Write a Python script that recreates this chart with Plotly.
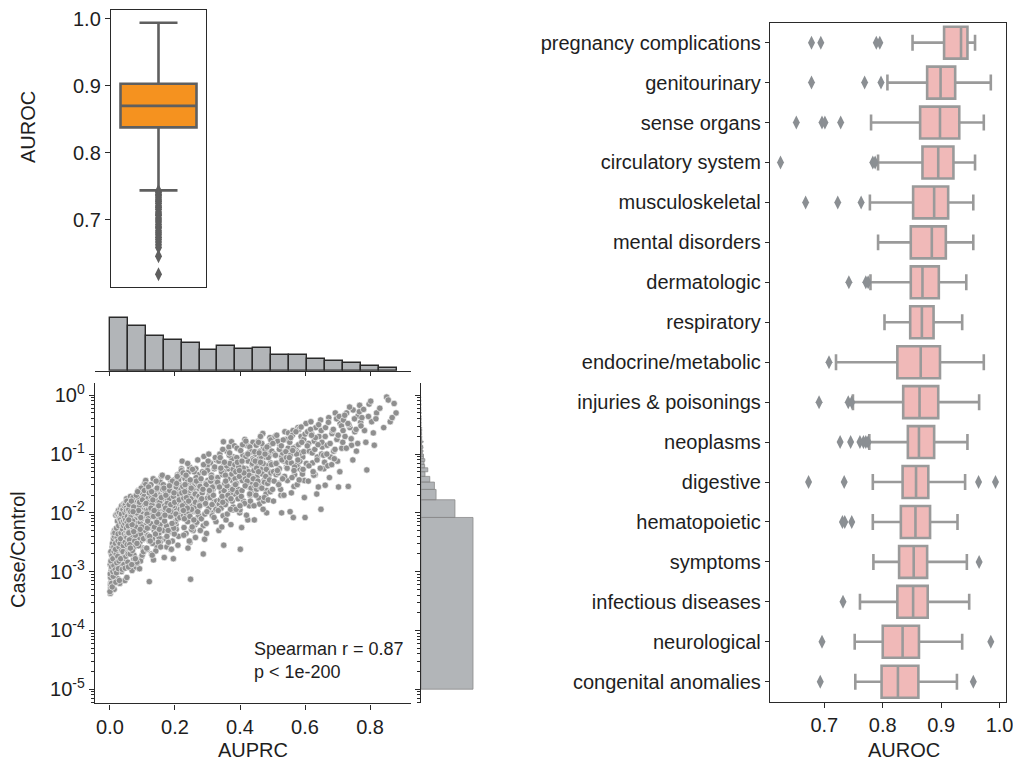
import numpy as np
import plotly.graph_objects as go

W, H = 1013, 761
FONT = "Liberation Sans, Arial, Helvetica, sans-serif"
INK = "#1e1e1e"

# ---------------- overall AUROC (summary statistics + outliers) ----------------
overall_q1 = 0.838
overall_median = 0.870
overall_q3 = 0.903
overall_low = 0.744
overall_high = 0.994
overall_outliers = [0.743, 0.741, 0.738, 0.736, 0.733, 0.730, 0.728, 0.725, 0.721, 0.719,
                    0.716, 0.712, 0.709, 0.707, 0.703, 0.700, 0.697, 0.693, 0.690, 0.688,
                    0.684, 0.681, 0.678, 0.674, 0.671, 0.667, 0.663, 0.659, 0.646, 0.619]

# ---------------- AUPRC vs case/control ratio (one point per phenotype) ----------------
auprc = [
    # 0.00 - 0.055
    0.001, 0.002, 0.003, 0.004, 0.005, 0.006, 0.007, 0.008, 0.009, 0.010,
    0.011, 0.012, 0.002, 0.004, 0.006, 0.008, 0.010, 0.003, 0.007, 0.011,
    0.013, 0.014, 0.015, 0.016, 0.017, 0.018, 0.019, 0.020, 0.021, 0.022,
    0.023, 0.024, 0.025, 0.026, 0.027, 0.014, 0.016, 0.018, 0.020, 0.022,
    0.024, 0.026,
    0.029, 0.030, 0.031, 0.032, 0.033, 0.034, 0.035, 0.036, 0.037, 0.038,
    0.039, 0.040, 0.041, 0.030, 0.032, 0.034, 0.036, 0.038, 0.040, 0.042,
    0.043, 0.044, 0.045, 0.046, 0.047, 0.048, 0.049, 0.050, 0.051, 0.052,
    0.053, 0.054, 0.044, 0.046, 0.048, 0.050, 0.052, 0.054,
    0.000, 0.001, 0.002, 0.003, 0.004, 0.005, 0.006, 0.001, 0.003, 0.005,
    0.007, 0.008, 0.009, 0.010, 0.011, 0.012, 0.013, 0.014, 0.009, 0.012,
    0.015, 0.016, 0.017, 0.018, 0.019, 0.020, 0.021, 0.022, 0.017, 0.020,
    0.023, 0.024, 0.025, 0.026, 0.027, 0.028, 0.029, 0.030, 0.025, 0.028,
    0.031, 0.032, 0.033, 0.034, 0.035, 0.036, 0.037, 0.038, 0.033, 0.036,
    0.039, 0.040, 0.041, 0.042, 0.043, 0.044, 0.045, 0.040, 0.042, 0.044,
    0.046, 0.047, 0.048, 0.049, 0.050, 0.046, 0.048, 0.050, 0.047, 0.049,
    0.051, 0.052, 0.053, 0.054, 0.055, 0.051, 0.052, 0.053, 0.054, 0.055,
    # 0.055 - 0.110
    0.057, 0.061, 0.066, 0.070, 0.074, 0.078, 0.083, 0.087, 0.092, 0.097,
    0.101, 0.106, 0.059, 0.063, 0.068, 0.072, 0.077, 0.081, 0.085, 0.090,
    0.094, 0.099, 0.104, 0.108, 0.056, 0.062, 0.067, 0.071, 0.076, 0.080,
    0.084, 0.089, 0.093, 0.098, 0.103, 0.107, 0.060, 0.064, 0.069, 0.073,
    0.079, 0.082, 0.086, 0.091, 0.095, 0.100, 0.105, 0.109, 0.058, 0.065,
    0.075, 0.088, 0.096, 0.102, 0.110, 0.062, 0.071, 0.083, 0.094, 0.106,
    0.066, 0.078, 0.090, 0.101, 0.058, 0.074, 0.087, 0.099,
    0.056, 0.059, 0.062, 0.065, 0.068, 0.071, 0.074, 0.077, 0.080, 0.083,
    0.086, 0.089, 0.092, 0.095, 0.098, 0.101, 0.104, 0.107, 0.110, 0.057,
    0.060, 0.063, 0.066, 0.069, 0.072, 0.075, 0.078, 0.081, 0.084, 0.087,
    0.090, 0.093, 0.096, 0.099, 0.102, 0.105, 0.108, 0.058, 0.061, 0.064,
    0.067, 0.070, 0.073, 0.076, 0.079, 0.082, 0.085, 0.088, 0.091, 0.094,
    0.097, 0.100, 0.103, 0.106, 0.109, 0.068, 0.078, 0.088, 0.098, 0.108,
    0.063, 0.073, 0.083, 0.093, 0.103, 0.058, 0.071, 0.095,
    # 0.110 - 0.165
    0.112, 0.116, 0.120, 0.124, 0.128, 0.132, 0.136, 0.140, 0.144, 0.148,
    0.152, 0.156, 0.160, 0.164, 0.114, 0.118, 0.122, 0.126, 0.130, 0.134,
    0.138, 0.142, 0.146, 0.150, 0.154, 0.158, 0.162, 0.113, 0.121, 0.129,
    0.137, 0.145, 0.153, 0.161, 0.117, 0.125, 0.133, 0.141, 0.149, 0.157,
    0.115, 0.127, 0.139, 0.151, 0.163, 0.119, 0.131, 0.143, 0.155, 0.121,
    0.135, 0.147,
    0.111, 0.115, 0.119, 0.123, 0.127, 0.131, 0.135, 0.139, 0.143, 0.147,
    0.151, 0.155, 0.159, 0.163, 0.113, 0.117, 0.121, 0.125, 0.129, 0.133,
    0.137, 0.141, 0.145, 0.149, 0.153, 0.157, 0.161, 0.165, 0.114, 0.122,
    0.130, 0.138, 0.146, 0.154, 0.162, 0.118, 0.126, 0.134, 0.142, 0.150,
    0.158, 0.116, 0.124, 0.132, 0.140, 0.148, 0.156, 0.164, 0.128, 0.144,
    0.136, 0.152,
    # 0.165 - 0.220
    0.167, 0.171, 0.175, 0.179, 0.183, 0.187, 0.191, 0.195, 0.199, 0.203,
    0.207, 0.211, 0.215, 0.219, 0.169, 0.173, 0.177, 0.181, 0.185, 0.189,
    0.193, 0.197, 0.201, 0.205, 0.209, 0.213, 0.217, 0.168, 0.176, 0.184,
    0.192, 0.200, 0.208, 0.216, 0.172, 0.180, 0.188, 0.196, 0.204, 0.212,
    0.220, 0.178, 0.190, 0.202, 0.214, 0.186, 0.198,
    0.166, 0.170, 0.174, 0.178, 0.182, 0.186, 0.190, 0.194, 0.198, 0.202,
    0.206, 0.210, 0.214, 0.218, 0.168, 0.172, 0.176, 0.180, 0.184, 0.188,
    0.192, 0.196, 0.200, 0.204, 0.208, 0.212, 0.216, 0.220, 0.171, 0.179,
    0.187, 0.195, 0.203, 0.211, 0.219, 0.175, 0.183, 0.191, 0.199, 0.207,
    0.215, 0.181, 0.197, 0.213, 0.189, 0.205, 0.169,
    # 0.220 - 0.275
    0.222, 0.226, 0.230, 0.234, 0.238, 0.242, 0.246, 0.250, 0.254, 0.258,
    0.262, 0.266, 0.270, 0.274, 0.224, 0.228, 0.232, 0.236, 0.240, 0.244,
    0.248, 0.252, 0.256, 0.260, 0.264, 0.268, 0.272, 0.223, 0.231, 0.239,
    0.247, 0.255, 0.263, 0.271, 0.227, 0.235, 0.243, 0.251, 0.259, 0.267,
    0.248, 0.275,
    0.221, 0.225, 0.229, 0.233, 0.237, 0.241, 0.245, 0.249, 0.253, 0.257,
    0.261, 0.265, 0.269, 0.273, 0.223, 0.227, 0.231, 0.235, 0.239, 0.243,
    0.247, 0.251, 0.255, 0.259, 0.263, 0.267, 0.271, 0.275, 0.230, 0.238,
    0.246, 0.254, 0.262, 0.270, 0.234, 0.242, 0.250, 0.258, 0.266, 0.274,
    0.226, 0.244,
    # 0.275 - 0.330
    0.277, 0.281, 0.285, 0.289, 0.293, 0.297, 0.301, 0.305, 0.309, 0.313,
    0.317, 0.321, 0.325, 0.329, 0.279, 0.287, 0.295, 0.303, 0.311, 0.319,
    0.327, 0.283, 0.291, 0.299, 0.307, 0.315, 0.323, 0.287, 0.300, 0.312,
    0.326,
    0.276, 0.280, 0.284, 0.288, 0.292, 0.296, 0.300, 0.304, 0.308, 0.312,
    0.316, 0.320, 0.324, 0.328, 0.278, 0.286, 0.294, 0.302, 0.310, 0.318,
    0.326, 0.282, 0.290, 0.298, 0.306, 0.314, 0.322, 0.330, 0.296, 0.312,
    0.304,
    # 0.330 - 0.386
    0.332, 0.336, 0.340, 0.344, 0.348, 0.352, 0.356, 0.360, 0.364, 0.368,
    0.372, 0.376, 0.380, 0.384, 0.334, 0.338, 0.342, 0.346, 0.350, 0.354,
    0.358, 0.362, 0.366, 0.370, 0.374, 0.378, 0.382, 0.335, 0.343, 0.351,
    0.359, 0.367, 0.375, 0.383, 0.349, 0.357, 0.365,
    0.331, 0.335, 0.339, 0.343, 0.347, 0.351, 0.355, 0.359, 0.363, 0.367,
    0.371, 0.375, 0.379, 0.383, 0.333, 0.337, 0.341, 0.345, 0.353, 0.361,
    0.369, 0.377, 0.385, 0.339, 0.347, 0.355, 0.363, 0.371, 0.379, 0.344,
    0.352, 0.360, 0.368, 0.376, 0.384, 0.356, 0.372,
    # 0.386 - 0.441
    0.387, 0.391, 0.395, 0.399, 0.403, 0.407, 0.411, 0.415, 0.419, 0.423,
    0.427, 0.431, 0.435, 0.439, 0.389, 0.397, 0.405, 0.413, 0.421, 0.429,
    0.437, 0.393, 0.401, 0.409, 0.417, 0.425, 0.433, 0.440, 0.400, 0.412,
    0.424, 0.436, 0.396,
    0.386, 0.390, 0.394, 0.398, 0.402, 0.406, 0.410, 0.414, 0.418, 0.422,
    0.426, 0.430, 0.434, 0.438, 0.388, 0.396, 0.404, 0.408, 0.416, 0.420,
    0.428, 0.432, 0.436, 0.440, 0.392, 0.400, 0.412, 0.424, 0.434, 0.406,
    0.418, 0.430, 0.398,
    # 0.441 - 0.496
    0.442, 0.446, 0.450, 0.454, 0.458, 0.462, 0.466, 0.470, 0.474, 0.478,
    0.482, 0.486, 0.490, 0.494, 0.444, 0.448, 0.452, 0.456, 0.460, 0.464,
    0.468, 0.472, 0.476, 0.480, 0.484, 0.488, 0.492, 0.443, 0.451, 0.459,
    0.467, 0.475, 0.483, 0.491, 0.482,
    0.441, 0.445, 0.449, 0.453, 0.457, 0.461, 0.465, 0.469, 0.473, 0.477,
    0.481, 0.485, 0.489, 0.493, 0.447, 0.455, 0.463, 0.471, 0.479, 0.487,
    0.495, 0.443, 0.451, 0.459, 0.467, 0.475, 0.483, 0.491, 0.457, 0.471,
    0.449, 0.463, 0.477, 0.487, 0.495,
    # 0.496 - 0.551
    0.498, 0.503, 0.508, 0.513, 0.518, 0.523, 0.528, 0.533, 0.538, 0.543,
    0.548, 0.500, 0.506, 0.511, 0.516, 0.521, 0.526, 0.531, 0.536, 0.541,
    0.546, 0.528, 0.550,
    0.497, 0.501, 0.505, 0.509, 0.513, 0.517, 0.521, 0.525, 0.529, 0.533,
    0.537, 0.541, 0.545, 0.549, 0.503, 0.511, 0.519, 0.527, 0.535, 0.543,
    0.515, 0.531, 0.547,
    # 0.551 - 0.606
    0.553, 0.558, 0.563, 0.568, 0.573, 0.578, 0.583, 0.588, 0.593, 0.598,
    0.603, 0.555, 0.561, 0.566, 0.571, 0.576, 0.581, 0.586, 0.591, 0.596,
    0.554, 0.564, 0.600,
    0.552, 0.556, 0.560, 0.564, 0.568, 0.572, 0.576, 0.580, 0.584, 0.588,
    0.592, 0.596, 0.600, 0.604, 0.558, 0.566, 0.574, 0.582, 0.590, 0.598,
    0.562, 0.578, 0.594,
    # 0.606 - 0.661
    0.608, 0.613, 0.618, 0.623, 0.628, 0.633, 0.638, 0.643, 0.648, 0.653,
    0.658, 0.611, 0.621, 0.631, 0.641, 0.651, 0.636, 0.649,
    0.607, 0.612, 0.617, 0.622, 0.627, 0.632, 0.637, 0.642, 0.647, 0.652,
    0.657, 0.610, 0.620, 0.630, 0.640, 0.650, 0.660, 0.625,
    # 0.661 - 0.716
    0.663, 0.668, 0.673, 0.678, 0.683, 0.688, 0.693, 0.698, 0.703, 0.708,
    0.713, 0.670, 0.685, 0.700, 0.662,
    0.662, 0.667, 0.672, 0.677, 0.682, 0.687, 0.692, 0.697, 0.702, 0.707,
    0.712, 0.716, 0.675, 0.690, 0.705,
    # 0.716 - 0.771
    0.718, 0.723, 0.728, 0.733, 0.738, 0.743, 0.748, 0.753, 0.758, 0.763,
    0.768, 0.735,
    0.717, 0.722, 0.727, 0.732, 0.737, 0.742, 0.747, 0.752, 0.757, 0.762,
    0.767, 0.771,
    # 0.771 - 0.882
    0.775, 0.783, 0.790, 0.797, 0.805, 0.813, 0.820,
    0.772, 0.780, 0.787, 0.795, 0.802, 0.810, 0.818,
    0.851, 0.862, 0.874, 0.880,
    0.830, 0.842, 0.856, 0.868,
]

log10_case_control = [
    # 0.00 - 0.055
    -3.37, -3.28, -3.18, -3.05, -2.95, -2.85, -2.76, -2.70, -2.62, -2.55,
    -2.48, -2.42, -3.22, -3.12, -2.99, -2.90, -2.80, -2.68, -2.58, -2.35,
    -3.30, -2.30, -3.05, -2.60, -2.85, -2.04, -2.95, -2.45, -2.72, -2.02,
    -2.55, -3.12, -2.38, -2.65, -2.05, -2.78, -2.50, -2.88, -2.28, -2.62,
    -2.90, -1.96,
    -2.00, -3.20, -2.40, -2.75, -1.92, -2.58, -3.00, -1.88, -2.48, -2.85,
    -1.95, -2.68, -2.32, -2.62, -2.06, -2.90, -2.05, -2.55, -2.42, -1.98,
    -1.85, -2.70, -2.30, -3.15, -1.95, -2.45, -1.82, -2.82, -1.76, -2.58,
    -1.98, -2.38, -2.02, -2.62, -1.90, -2.05, -3.10, -2.48,
    -3.34, -2.88, -3.10, -2.66, -2.98, -3.20, -2.73, -3.04, -2.82, -2.92,
    -3.26, -2.52, -2.78, -3.08, -2.44, -2.90, -2.66, -2.40, -3.00, -2.58,
    -2.34, -2.97, -2.52, -3.18, -2.70, -2.26, -2.85, -2.42, -2.62, -3.02,
    -2.14, -2.74, -2.36, -2.95, -2.22, -2.58, -3.15, -2.10, -2.48, -2.82,
    -2.52, -2.12, -2.78, -2.34, -2.02, -2.64, -2.20, -2.96, -2.44, -2.16,
    -2.28, -1.94, -2.56, -2.14, -2.88, -2.36, -2.08, -2.66, -2.22, -1.88,
    -2.18, -2.50, -1.86, -2.74, -2.32, -2.00, -2.12, -1.92, -2.94, -2.40,
    -2.26, -1.80, -2.54, -2.06, -2.84, -1.96, -2.42, -2.16, -2.68, -2.34,
    # 0.055 - 0.110
    -1.96, -2.62, -1.80, -2.35, -2.88, -1.95, -2.48, -1.62, -1.90, -2.75,
    -1.55, -2.05, -2.45, -1.72, -2.98, -2.04, -1.88, -2.55, -2.30, -1.68,
    -2.82, -1.98, -2.40, -1.75, -2.70, -2.25, -1.90, -2.58, -2.08, -2.92,
    -1.82, -2.38, -1.60, -2.00, -2.65, -1.50, -1.85, -2.52, -1.84, -2.78,
    -2.02, -2.42, -1.70, -2.95, -2.28, -1.92, -2.22, -1.58, -2.32, -2.68,
    -1.78, -2.50, -2.00, -2.60, -1.45, -1.99, -2.44, -2.86, -1.65, -2.35,
    -2.00, -2.26, -2.06, -1.86, -1.94, -2.72, -2.16, -2.46,
    -2.22, -1.86, -2.70, -2.04, -2.40, -1.74, -2.58, -2.12, -1.92, -2.84,
    -2.30, -1.76, -2.50, -2.00, -1.66, -2.36, -1.84, -2.62, -1.52, -2.92,
    -2.46, -2.08, -1.80, -2.64, -2.26, -1.94, -2.78, -1.70, -2.18, -2.42,
    -1.88, -2.16, -1.58, -2.72, -2.02, -1.72, -2.30, -2.34, -2.54, -1.98,
    -2.88, -2.14, -1.90, -2.48, -2.24, -2.00, -1.64, -2.56, -1.82, -2.36,
    -2.10, -1.78, -2.44, -1.62, -2.06, -2.20, -2.38, -1.96, -2.24, -1.86,
    -2.60, -2.32, -2.52, -2.28, -2.66, -2.12, -1.98, -2.08,
    # 0.110 - 0.165
    -1.95, -2.40, -1.60, -2.03, -2.70, -1.80, -2.30, -1.45, -2.05, -2.55,
    -1.70, -2.20, -1.88, -2.45, -2.62, -1.75, -2.25, -1.52, -1.93, -2.80,
    -1.92, -2.35, -1.65, -2.00, -2.50, -1.38, -1.97, -2.05, -2.48, -1.85,
    -2.01, -2.58, -1.78, -2.28, -2.38, -1.68, -1.98, -2.65, -1.55, -2.08,
    -1.82, -2.22, -1.72, -2.42, -2.02, -1.90, -2.52, -1.62, -2.32, -3.17,
    -1.90, -1.87,
    -1.84, -2.26, -1.56, -2.00, -1.72, -2.44, -1.90, -1.62, -2.12, -1.80,
    -2.34, -1.48, -2.04, -1.76, -2.60, -1.96, -1.66, -2.18, -1.86, -1.42,
    -2.24, -1.94, -1.58, -2.50, -1.82, -2.08, -1.36, -2.30, -2.02, -2.40,
    -2.72, -1.70, -1.98, -2.20, -1.60, -2.10, -1.92, -2.06, -1.46, -1.88,
    -1.74, -2.14, -2.48, -1.78, -2.36, -2.02, -2.58, -1.52, -1.64, -2.16,
    -1.96, -2.28,
    # 0.165 - 0.220
    -2.76, -1.65, -2.58, -1.90, -2.30, -1.45, -2.05, -2.78, -1.72, -2.20,
    -1.55, -2.40, -1.82, -1.30, -1.94, -2.45, -1.78, -2.00, -1.60, -2.32,
    -1.95, -1.50, -2.15, -1.85, -2.55, -1.70, -1.40, -1.88, -2.22, -1.68,
    -2.48, -1.92, -1.35, -2.08, -1.98, -1.58, -2.62, -1.80, -2.28, -1.62,
    -1.25, -2.35, -1.75, -2.02, -1.52, -2.04, -1.44,
    -1.58, -1.96, -2.22, -1.40, -1.76, -2.06, -1.64, -1.88, -2.36, -1.52,
    -1.74, -2.00, -1.34, -1.90, -2.14, -1.70, -1.84, -2.50, -1.62, -1.98,
    -1.46, -2.26, -1.80, -1.56, -2.10, -1.68, -1.94, -1.28, -1.92, -2.30,
    -1.86, -1.72, -2.02, -1.44, -1.60, -2.40, -1.54, -2.18, -1.82, -1.38,
    -2.08, -1.96, -1.66, -1.78, -2.62, -1.50, -2.04,
    # 0.220 - 0.275
    -1.12, -2.05, -1.60, -2.35, -1.85, -1.30, -2.50, -1.72, -1.98, -1.45,
    -2.20, -1.65, -1.10, -1.90, -1.55, -2.25, -1.80, -1.38, -2.60, -1.68,
    -2.00, -1.50, -2.30, -1.78, -1.25, -2.10, -1.58, -1.95, -1.42, -2.15,
    -1.62, -1.88, -2.42, -1.35, -1.75, -2.02, -1.52, -2.28, -1.70, -1.82,
    -3.13, -1.48,
    -1.66, -1.32, -2.10, -1.84, -1.48, -1.96, -1.22, -1.76, -2.24, -1.56,
    -1.90, -1.40, -1.70, -2.04, -1.88, -2.38, -1.52, -1.74, -1.16, -2.00,
    -1.44, -1.94, -1.60, -1.30, -1.82, -2.16, -1.50, -1.86, -1.64, -1.92,
    -2.06, -1.26, -1.68, -1.98, -1.36, -1.80, -1.58, -2.12, -1.46, -1.72,
    -1.96, -2.48,
    # 0.275 - 0.330
    -1.55, -2.10, -1.30, -1.04, -1.85, -2.35, -1.45, -1.70, -1.15, -2.00,
    -1.60, -1.25, -1.90, -1.40, -1.78, -2.22, -1.50, -1.95, -1.35, -1.82,
    -1.10, -1.65, -2.45, -1.20, -1.58, -2.05, -1.48, -2.70, -1.75, -1.62,
    -2.15,
    -1.88, -1.42, -1.66, -1.18, -2.02, -1.52, -1.28, -1.92, -1.74, -1.36,
    -1.56, -2.08, -1.06, -1.80, -2.30, -1.60, -1.84, -1.12, -1.46, -1.70,
    -1.94, -1.76, -1.32, -1.98, -1.62, -1.86, -1.22, -1.50, -2.18, -1.40,
    -1.00,
    # 0.330 - 0.386
    -1.40, -1.85, -1.10, -1.62, -2.05, -1.30, -1.50, -0.95, -1.75, -1.22,
    -2.20, -1.45, -1.05, -1.68, -1.55, -1.00, -1.92, -1.35, -2.55, -1.15,
    -1.80, -1.42, -0.88, -1.58, -0.79, -1.95, -1.28, -2.30, -1.65, -1.18,
    -1.38, -1.72, -1.08, -1.52, -0.79, -2.12, -1.25,
    -1.48, -1.12, -1.78, -1.30, -0.92, -1.62, -1.86, -1.20, -1.42, -1.02,
    -1.66, -1.34, -1.90, -0.86, -1.96, -1.56, -1.24, -1.72, -1.50, -2.02,
    -1.16, -1.60, -1.42, -1.06, -1.82, -1.36, -1.70, -1.94, -1.26, -2.24,
    -1.14, -1.54, -0.98, -1.80, -1.18, -1.46, -1.76,
    # 0.386 - 0.441
    -1.30, -0.90, -1.60, -2.00, -1.15, -1.45, -1.80, -0.75, -1.25, -1.55,
    -0.98, -1.70, -1.38, -1.08, -1.50, -1.20, -2.25, -1.35, -0.85, -1.88,
    -1.18, -1.65, -2.62, -1.02, -1.42, -1.12, -1.58, -0.80, -1.95, -1.28,
    -2.12, -1.48, -1.10,
    -1.52, -1.06, -1.76, -1.38, -0.94, -1.62, -1.24, -1.84, -1.04, -1.46,
    -1.30, -0.88, -1.66, -1.16, -1.94, -1.22, -1.72, -0.84, -1.54, -2.04,
    -1.36, -1.80, -0.96, -1.42, -1.14, -1.88, -1.32, -1.00, -1.58, -1.12,
    -0.78, -1.68, -1.28,
    # 0.441 - 0.496
    -1.10, -1.55, -0.85, -1.35, -1.75, -0.95, -1.22, -0.65, -1.45, -1.05,
    -1.62, -0.90, -1.30, -1.15, -2.12, -1.00, -1.40, -0.78, -1.85, -1.25,
    -1.52, -0.88, -1.18, -1.68, -0.98, -1.38, -0.72, -1.28, -1.60, -1.08,
    -0.82, -1.48, -1.20, -1.02, -2.00,
    -1.42, -0.96, -1.70, -1.20, -0.80, -1.56, -1.04, -1.34, -1.80, -0.92,
    -1.26, -1.50, -0.86, -1.64, -1.12, -1.46, -0.70, -1.16, -1.38, -1.06,
    -1.32, -1.88, -1.24, -0.98, -1.58, -1.74, -0.88, -1.44, -1.30, -1.94,
    -1.52, -1.14, -1.00, -1.78, -0.76,
    # 0.496 - 0.551
    -0.95, -1.30, -0.70, -1.15, -1.50, -0.85, -1.05, -1.40, -0.62, -1.22,
    -0.90, -1.60, -1.00, -1.35, -0.78, -1.25, -1.70, -0.98, -1.12, -0.75,
    -1.45, -2.00, -1.08,
    -1.18, -0.82, -1.46, -1.02, -0.68, -1.32, -0.92, -1.60, -1.10, -0.76,
    -1.38, -0.96, -1.24, -0.64, -1.80, -1.16, -1.52, -0.86, -1.70, -1.06,
    -1.28, -1.42, -1.14,
    # 0.551 - 0.606
    -0.80, -1.15, -0.60, -1.35, -0.92, -0.55, -1.25, -0.70, -1.05, -1.45,
    -0.48, -1.02, -0.68, -1.55, -0.88, -1.18, -0.58, -0.98, -1.30, -0.75,
    -1.98, -2.08, -2.08,
    -1.06, -0.72, -1.40, -0.90, -1.22, -0.62, -1.52, -0.84, -1.12, -0.54,
    -1.34, -0.96, -0.66, -1.16, -1.66, -1.28, -1.00, -1.44, -0.80, -1.74,
    -0.94, -1.10, -1.26,
    # 0.606 - 0.661
    -0.62, -0.95, -0.45, -1.15, -0.78, -0.55, -1.05, -0.70, -0.42, -0.88,
    -1.25, -0.82, -0.66, -1.35, -1.56, -1.00, -1.68, -1.94,
    -0.86, -1.20, -0.58, -0.98, -1.36, -0.72, -1.10, -0.50, -1.24, -0.80,
    -1.02, -1.46, -0.68, -0.92, -0.84, -0.60, -1.14, -1.30,
    # 0.661 - 0.716
    -0.55, -0.85, -0.38, -1.05, -0.65, -0.95, -0.30, -0.75, -1.56, -0.48,
    -0.90, -1.20, -0.60, -1.12, -1.53,
    -0.70, -1.00, -0.46, -0.82, -1.18, -0.58, -0.92, -0.40, -0.68, -1.30,
    -0.52, -0.80, -1.40, -1.08, -0.36,
    # 0.716 - 0.771
    -0.42, -0.70, -0.30, -1.55, -0.55, -0.85, -0.25, -0.62, -0.95, -0.35,
    -0.17, -0.50,
    -0.60, -0.34, -0.90, -0.48, -0.20, -0.74, -1.10, -0.40, -0.58, -0.82,
    -0.28, -0.46,
    # 0.771 - 0.882
    -0.38, -0.60, -1.27, -0.15, -0.45, -0.85, -0.30,
    -0.52, -0.24, -0.80, -0.36, -0.10, -0.64, -0.40,
    -0.03, -0.45, -0.14, -0.30,
    -0.22, -0.55, -0.08, -0.38,
]
assert len(auprc) == len(log10_case_control)

spearman_text = "Spearman r = 0.87<br>p &lt; 1e-200"

# ---------------- AUROC by phenotype category ----------------
categories = ["pregnancy complications", "genitourinary", "sense organs",
              "circulatory system", "musculoskeletal", "mental disorders",
              "dermatologic", "respiratory", "endocrine/metabolic",
              "injuries & poisonings", "neoplasms", "digestive", "hematopoietic",
              "symptoms", "infectious diseases", "neurological",
              "congenital anomalies"]
cat_low = [0.851, 0.808, 0.780, 0.792, 0.778, 0.792, 0.779, 0.803, 0.720,
           0.749, 0.777, 0.783, 0.783, 0.784, 0.761, 0.752, 0.753]
cat_q1 = [0.905, 0.876, 0.864, 0.868, 0.852, 0.848, 0.848, 0.847, 0.825,
          0.835, 0.843, 0.834, 0.831, 0.828, 0.825, 0.800, 0.798]
cat_median = [0.934, 0.899, 0.898, 0.895, 0.888, 0.884, 0.868, 0.867, 0.865,
              0.863, 0.862, 0.857, 0.856, 0.853, 0.852, 0.834, 0.826]
cat_q3 = [0.945, 0.924, 0.931, 0.921, 0.912, 0.908, 0.896, 0.887, 0.898,
          0.895, 0.888, 0.878, 0.881, 0.876, 0.877, 0.862, 0.861]
cat_high = [0.958, 0.985, 0.973, 0.958, 0.955, 0.955, 0.943, 0.936, 0.973,
            0.965, 0.945, 0.941, 0.928, 0.944, 0.948, 0.936, 0.927]
cat_outliers = [
    [0.678, 0.694, 0.789, 0.795],
    [0.678, 0.769, 0.797],
    [0.652, 0.696, 0.701, 0.728],
    [0.625, 0.783, 0.787],
    [0.668, 0.723, 0.763],
    [],
    [0.742, 0.771, 0.775],
    [],
    [0.708],
    [0.691, 0.741, 0.747],
    [0.727, 0.745, 0.761, 0.767, 0.771, 0.775],
    [0.673, 0.734, 0.964, 0.993],
    [0.731, 0.735, 0.747],
    [0.965],
    [0.732],
    [0.696, 0.985],
    [0.693, 0.955],
]

# histogram binning
auprc_bin_size = 0.0551
cc_bin_width = 0.00834
cc_bin_start = 1e-5


def fx(px):
    return px / W


def fy(py):
    return 1 - py / H


fig = go.Figure()

# ---- panel A: overall AUROC box ----
fig.add_trace(go.Box(
    x=[0], q1=[overall_q1], median=[overall_median], q3=[overall_q3],
    lowerfence=[overall_low], upperfence=[overall_high],
    orientation="v", boxpoints=False, width=0.8, whiskerwidth=0.5,
    fillcolor="#f5921f", line=dict(color="#5f5f5f", width=2.6),
    xaxis="x", yaxis="y", hoverinfo="skip"))
fig.add_trace(go.Scatter(
    x=[0] * len(overall_outliers), y=overall_outliers, mode="markers",
    marker=dict(symbol="diamond-tall", size=10, color="#5f5f5f"),
    xaxis="x", yaxis="y", hoverinfo="skip"))

# ---- panel B: joint plot ----
auprc_arr = np.array(auprc)
cc_arr = 10 ** np.array(log10_case_control)

top_edges = np.arange(0, 17) * auprc_bin_size
top_counts, _ = np.histogram(auprc_arr, bins=top_edges)
fig.add_trace(go.Histogram(
    x=auprc_arr, xbins=dict(start=0, end=top_edges[-1], size=auprc_bin_size),
    marker=dict(color="#b2b5b8", line=dict(color="#2a2a2a", width=1.4)),
    xaxis="x2", yaxis="y2", hoverinfo="skip"))

fig.add_trace(go.Scatter(
    x=auprc_arr, y=cc_arr, mode="markers",
    marker=dict(size=6.4, color="#8f8f8f", line=dict(color="white", width=0.6)),
    xaxis="x3", yaxis="y3", hoverinfo="skip"))

cc_edges = cc_bin_start + np.arange(0, 125) * cc_bin_width
cc_counts, _ = np.histogram(cc_arr, bins=cc_edges)
px_, py_ = [], []
for c, lo, hi in zip(cc_counts, cc_edges[:-1], cc_edges[1:]):
    if c == 0:
        continue
    px_ += [0, c, c, 0, 0, None]
    py_ += [lo, lo, hi, hi, lo, None]
fig.add_trace(go.Scatter(
    x=px_, y=py_, mode="lines", fill="toself", fillcolor="#b2b5b8",
    line=dict(color="#8a8a8a", width=0.8),
    xaxis="x4", yaxis="y4", hoverinfo="skip"))

# ---- panel C: AUROC by category ----
fig.add_trace(go.Box(
    y=categories, q1=cat_q1, median=cat_median, q3=cat_q3,
    lowerfence=cat_low, upperfence=cat_high,
    orientation="h", boxpoints=False, width=0.8, whiskerwidth=0.5,
    fillcolor="#f0b9b8", line=dict(color="#9a9a9a", width=2.6),
    xaxis="x5", yaxis="y5", hoverinfo="skip"))
out_x, out_y = [], []
for cat, vals in zip(categories, cat_outliers):
    out_x += vals
    out_y += [cat] * len(vals)
fig.add_trace(go.Scatter(
    x=out_x, y=out_y, mode="markers",
    marker=dict(symbol="diamond-tall", size=10, color="#8b8f93"),
    xaxis="x5", yaxis="y5", hoverinfo="skip"))

# ---- axes ----
tickfont = dict(family=FONT, size=20, color=INK)
frame = dict(showline=True, linecolor="#2a2a2a", linewidth=1.4, showgrid=False,
             zeroline=False)

log_major = [1e-5, 1e-4, 1e-3, 1e-2, 1e-1, 1]
log_labels = ["10<sup>-5</sup>", "10<sup>-4</sup>", "10<sup>-3</sup>",
              "10<sup>-2</sup>", "10<sup>-1</sup>", "10<sup>0</sup>"]
log_minor = [m * 10.0 ** k for k in range(-6, 1) for m in range(2, 10)]
log_range = [-5.24, 0.204]
auprc_range = [-0.046, 0.925]
auprc_ticks = [0.0, 0.2, 0.4, 0.6, 0.8]

fig.update_layout(
    width=W, height=H, margin=dict(l=0, r=0, t=0, b=0, autoexpand=False),
    paper_bgcolor="white", plot_bgcolor="white", showlegend=False,
    font=dict(family=FONT, size=20, color=INK),
    xaxis=dict(domain=[fx(111), fx(206)], range=[-0.5, 0.5], mirror=True,
               showticklabels=False, ticks="", anchor="y", **frame),
    yaxis=dict(domain=[fy(287), fy(10)], range=[0.6, 1.013], mirror=True,
               tickvals=[0.7, 0.8, 0.9, 1.0], ticktext=["0.7", "0.8", "0.9", "1.0"],
               ticks="outside", ticklen=5, tickcolor="#2a2a2a", tickfont=tickfont,
               anchor="x", **frame),
    xaxis2=dict(domain=[fx(95), fx(410.7)], range=auprc_range, tickvals=auprc_ticks,
                showticklabels=False, ticks="outside", ticklen=4, tickcolor="#2a2a2a",
                anchor="y2", **frame),
    yaxis2=dict(domain=[fy(370.7), fy(306)],
                range=[0, top_counts.max() * (370.7 - 306) / (370.7 - 317.7)],
                visible=False, anchor="x2"),
    xaxis3=dict(domain=[fx(95), fx(410.7)], range=auprc_range, tickvals=auprc_ticks,
                ticktext=["0.0", "0.2", "0.4", "0.6", "0.8"], ticks="outside",
                ticklen=5, tickcolor="#2a2a2a", tickfont=tickfont, anchor="y3", **frame),
    yaxis3=dict(domain=[fy(703.3), fy(383.3)], type="log", range=log_range,
                tickvals=log_major, ticktext=log_labels, ticks="outside", ticklen=5,
                tickcolor="#2a2a2a", tickfont=tickfont,
                minor=dict(tickmode="array", tickvals=log_minor, ticks="outside",
                           ticklen=2.5, tickcolor="#2a2a2a"),
                anchor="x3", **frame),
    xaxis4=dict(domain=[fx(421), fx(480)],
                range=[0, cc_counts.max() * (480 - 421) / 52.0],
                visible=False, anchor="y4"),
    yaxis4=dict(domain=[fy(703.3), fy(383.3)], type="log", range=log_range,
                tickvals=log_major, showticklabels=False, ticks="outside", ticklen=5,
                tickcolor="#2a2a2a",
                minor=dict(tickmode="array", tickvals=log_minor, ticks="outside",
                           ticklen=2.5, tickcolor="#2a2a2a"),
                anchor="x4", **frame),
    xaxis5=dict(domain=[fx(770), fx(1006)], range=[0.607, 1.011], mirror=True,
                tickvals=[0.7, 0.8, 0.9, 1.0], ticktext=["0.7", "0.8", "0.9", "1.0"],
                ticks="outside", ticklen=5, tickcolor="#2a2a2a", tickfont=tickfont,
                ticklabeloverflow="allow", automargin=False, anchor="y5", **frame),
    yaxis5=dict(domain=[fy(701.7), fy(22.7)], type="category",
                categoryorder="array", categoryarray=categories,
                range=[16.5, -0.5], mirror=True, ticks="outside", ticklen=4,
                tickcolor="#2a2a2a", tickfont=tickfont, anchor="x5", **frame),
)

title_font = dict(family=FONT, size=20, color=INK)
annotations = [
    dict(text="AUROC", x=fx(28), y=fy(127), textangle=-90, font=title_font),
    dict(text="Case/Control", x=fx(18), y=fy(550), textangle=-90, font=title_font),
    dict(text="AUPRC", x=fx(253), y=fy(750), font=title_font),
    dict(text="AUROC", x=fx(904), y=fy(750), font=title_font),
]
for a in annotations:
    a.update(xref="paper", yref="paper", showarrow=False,
             xanchor="center", yanchor="middle")
annotations.append(dict(text=spearman_text, x=fx(252), y=fy(660), xref="paper",
                        yref="paper", showarrow=False, xanchor="left",
                        yanchor="middle", align="left",
                        font=dict(family=FONT, size=18, color=INK)))
fig.update_layout(annotations=annotations)

fig.write_html("out.html")
